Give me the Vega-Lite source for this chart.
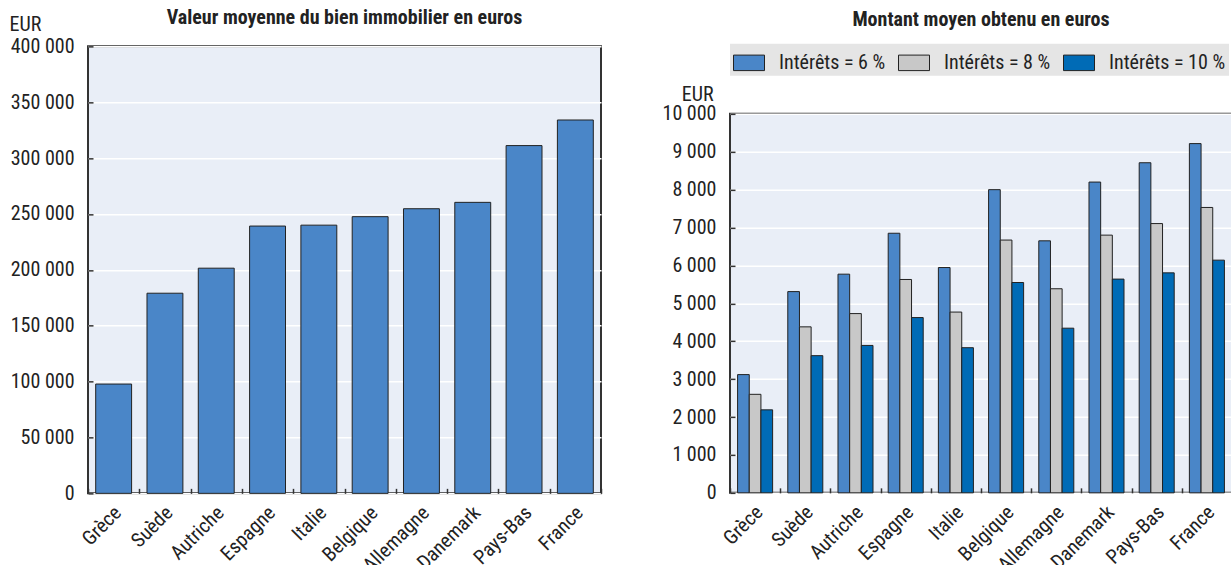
{
  "$schema": "https://vega.github.io/schema/vega-lite/v6.json",
  "padding": {"left": 8, "top": 7, "right": 0, "bottom": 0},
  "spacing": 58,
  "center": true,
  "resolve": {"legend": {"color": "independent"}, "scale": {"color": "independent"}},
  "config": {
    "font": "Liberation Sans Narrow, Arial Narrow, Roboto Condensed, DejaVu Sans Condensed, sans-serif",
    "locale": {"number": {"decimal": ",", "thousands": "\u00a0", "grouping": [3], "currency": ["", "\u00a0€"]}},
    "view": {"fill": "#e9eef7", "stroke": "#333333", "strokeWidth": 2},
    "axis": {
      "labelFontSize": 20, "labelColor": "#222222", "gridColor": "#ffffff", "gridWidth": 1.5, "gridOpacity": 1,
      "domain": false, "tickColor": "#333333", "tickSize": -5, "tickWidth": 1.5,
      "titleFontSize": 20, "titleFontWeight": "normal", "titleColor": "#222222"
    },
    "title": {"fontSize": 20, "fontWeight": "bold", "color": "#222222", "frame": "group", "anchor": "middle"},
    "legend": {
      "direction": "horizontal", "title": null,
      "symbolType": "M-1,-0.5H1V0.5H-1Z", "symbolSize": 961, "symbolStrokeColor": "#222222", "symbolStrokeWidth": 1,
      "labelFontSize": 20, "labelColor": "#222222", "labelOffset": 14, "columnPadding": 10,
      "fillColor": "#e5e5e5", "padding": 3, "offset": 38
    }
  },
  "hconcat": [
    {
      "width": 513, "height": 447,
      "title": {"text": "Valeur moyenne du bien immobilier en euros", "offset": -14},
      "data": {"values": [
        {"pays": "Grèce", "valeur": 97800},
        {"pays": "Suède", "valeur": 179100},
        {"pays": "Autriche", "valeur": 201500},
        {"pays": "Espagne", "valeur": 239200},
        {"pays": "Italie", "valeur": 240000},
        {"pays": "Belgique", "valeur": 247600},
        {"pays": "Allemagne", "valeur": 254700},
        {"pays": "Danemark", "valeur": 260400},
        {"pays": "Pays-Bas", "valeur": 311200},
        {"pays": "France", "valeur": 334100}
      ]},
      "mark": {"type": "bar", "width": {"band": 0.7}, "fill": "#4a86c8", "stroke": "#222222", "strokeWidth": 1},
      "encoding": {
        "x": {"field": "pays", "type": "nominal", "sort": null,
              "scale": {"paddingInner": 0, "paddingOuter": 0},
              "axis": {"title": "\u00a0", "titlePadding": 47, "labelAngle": -45, "tickBand": "extent", "labelPadding": 14, "labelOffset": -3}},
        "y": {"field": "valeur", "type": "quantitative",
              "scale": {"domain": [0, 400000], "nice": false},
              "axis": {"title": "EUR", "values": [0, 50000, 100000, 150000, 200000, 250000, 300000, 350000, 400000],
                       "format": ",d", "labelPadding": 19, "titleAngle": 0, "titleX": -79, "titleY": -16,
                       "titleAlign": "left", "titleBaseline": "alphabetic"}}
      }
    },
    {
      "width": 502, "height": 379,
      "title": {"text": "Montant moyen obtenu en euros", "offset": 14},
      "data": {"values": [
        {"pays": "Grèce", "taux": "Intérêts = 6 %", "montant": 3120},
        {"pays": "Grèce", "taux": "Intérêts = 8 %", "montant": 2600},
        {"pays": "Grèce", "taux": "Intérêts = 10 %", "montant": 2190},
        {"pays": "Suède", "taux": "Intérêts = 6 %", "montant": 5310},
        {"pays": "Suède", "taux": "Intérêts = 8 %", "montant": 4380},
        {"pays": "Suède", "taux": "Intérêts = 10 %", "montant": 3620},
        {"pays": "Autriche", "taux": "Intérêts = 6 %", "montant": 5770},
        {"pays": "Autriche", "taux": "Intérêts = 8 %", "montant": 4730},
        {"pays": "Autriche", "taux": "Intérêts = 10 %", "montant": 3890},
        {"pays": "Espagne", "taux": "Intérêts = 6 %", "montant": 6850},
        {"pays": "Espagne", "taux": "Intérêts = 8 %", "montant": 5630},
        {"pays": "Espagne", "taux": "Intérêts = 10 %", "montant": 4625},
        {"pays": "Italie", "taux": "Intérêts = 6 %", "montant": 5945},
        {"pays": "Italie", "taux": "Intérêts = 8 %", "montant": 4770},
        {"pays": "Italie", "taux": "Intérêts = 10 %", "montant": 3830},
        {"pays": "Belgique", "taux": "Intérêts = 6 %", "montant": 8000},
        {"pays": "Belgique", "taux": "Intérêts = 8 %", "montant": 6670},
        {"pays": "Belgique", "taux": "Intérêts = 10 %", "montant": 5550},
        {"pays": "Allemagne", "taux": "Intérêts = 6 %", "montant": 6650},
        {"pays": "Allemagne", "taux": "Intérêts = 8 %", "montant": 5385},
        {"pays": "Allemagne", "taux": "Intérêts = 10 %", "montant": 4345},
        {"pays": "Danemark", "taux": "Intérêts = 6 %", "montant": 8200},
        {"pays": "Danemark", "taux": "Intérêts = 8 %", "montant": 6800},
        {"pays": "Danemark", "taux": "Intérêts = 10 %", "montant": 5640},
        {"pays": "Pays-Bas", "taux": "Intérêts = 6 %", "montant": 8710},
        {"pays": "Pays-Bas", "taux": "Intérêts = 8 %", "montant": 7105},
        {"pays": "Pays-Bas", "taux": "Intérêts = 10 %", "montant": 5805},
        {"pays": "France", "taux": "Intérêts = 6 %", "montant": 9215},
        {"pays": "France", "taux": "Intérêts = 8 %", "montant": 7530},
        {"pays": "France", "taux": "Intérêts = 10 %", "montant": 6140}
      ]},
      "mark": {"type": "bar", "stroke": "#222222", "strokeWidth": 1},
      "encoding": {
        "x": {"field": "pays", "type": "nominal", "sort": null,
              "scale": {"paddingInner": 0, "paddingOuter": 0},
              "axis": {"title": null, "labelAngle": -45, "tickBand": "extent", "labelPadding": 14, "labelOffset": -3}},
        "xOffset": {"field": "taux", "type": "nominal", "sort": null,
                    "scale": {"domain": ["Intérêts = 6 %", "Intérêts = 8 %", "Intérêts = 10 %"], "paddingInner": 0, "paddingOuter": 0.65}},
        "y": {"field": "montant", "type": "quantitative",
              "scale": {"domain": [0, 10000], "nice": false},
              "axis": {"title": "EUR", "values": [0, 1000, 2000, 3000, 4000, 5000, 6000, 7000, 8000, 9000, 10000],
                       "format": ",d", "labelPadding": 19, "titleAngle": 0, "titleX": -17, "titleY": -13,
                       "titleAlign": "right", "titleBaseline": "alphabetic"}},
        "color": {"field": "taux", "type": "nominal", "sort": null,
                  "scale": {"domain": ["Intérêts = 6 %", "Intérêts = 8 %", "Intérêts = 10 %"],
                            "range": ["#4a86c8", "#c8c8c8", "#006bb6"]},
                  "legend": {"orient": "top"}}
      }
    }
  ]
}
